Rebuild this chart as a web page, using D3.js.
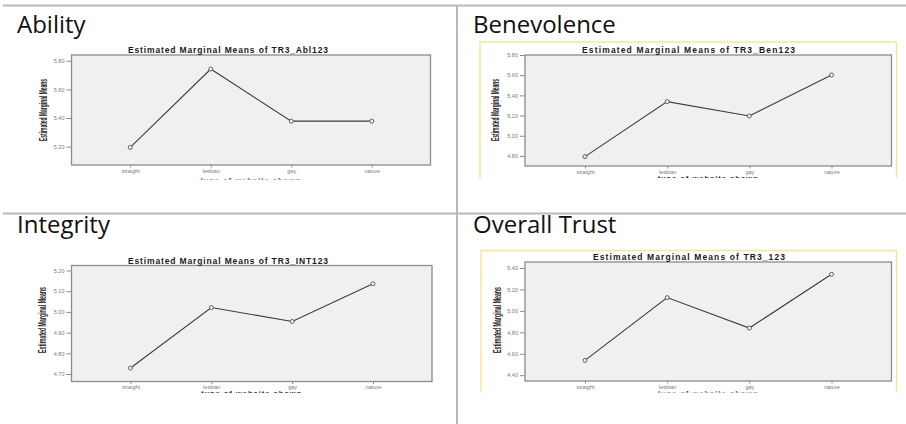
<!DOCTYPE html>
<html>
<head>
<meta charset="utf-8">
<script src="https://cdn.jsdelivr.net/npm/d3@7"></script>
<style>
  html, body { margin: 0; padding: 0; background: #fff; }
  svg { display: block; }
</style>
</head>
<body>
<div id="chart"></div>
<script>
// Data
const categories = ['straight', 'lesbian', 'gay', 'nature'];
const panelNames = ['Ability', 'Benevolence', 'Integrity', 'Overall Trust'];
const chartTitles = [
  'Estimated Marginal Means of TR3_Abl123',
  'Estimated Marginal Means of TR3_Ben123',
  'Estimated Marginal Means of TR3_INT123',
  'Estimated Marginal Means of TR3_123'
];
const abilityMeans = [5.195, 5.742, 5.378, 5.378];
const benevolenceMeans = [4.793, 5.338, 5.196, 5.602];
const integrityMeans = [4.729, 5.021, 4.954, 5.136];
const trustMeans = [4.538, 5.124, 4.840, 5.341];

const abilityTicks = [5.20, 5.40, 5.60, 5.80];
const benevolenceTicks = [4.80, 5.00, 5.20, 5.40, 5.60, 5.80];
const integrityTicks = [4.70, 4.80, 4.90, 5.00, 5.10, 5.20];
const trustTicks = [4.40, 4.60, 4.80, 5.00, 5.20, 5.40];

const abilityDomain = [5.072, 5.84];
const benevolenceDomain = [4.70, 5.80];
const integrityDomain = [4.664, 5.224];
const trustDomain = [4.346, 5.456];

const yTitle = 'Estimated Marginal Means';
const xTitle = 'type of website shown';

const width = 906;
const height = 424;
const gridColor = '#b9b9b9';

const svg = d3.select('#chart').append('svg')
  .attr('width', width)
  .attr('height', height)
  .style('font-family', '"Liberation Sans", Arial, sans-serif');

// ============================================
// Slide table grid
// ============================================
svg.append('line')
  .attr('x1', 3).attr('x2', width).attr('y1', 5.5).attr('y2', 5.5)
  .attr('stroke', gridColor).attr('stroke-width', 2);
svg.append('line')
  .attr('x1', 3).attr('x2', width).attr('y1', 213.5).attr('y2', 213.5)
  .attr('stroke', gridColor).attr('stroke-width', 2);
svg.append('line')
  .attr('x1', 457).attr('x2', 457).attr('y1', 5).attr('y2', height)
  .attr('stroke', gridColor).attr('stroke-width', 2);

// Panel layouts (positions only)
const panels = [
  { name: panelNames[0], title: chartTitles[0], values: abilityMeans, ticks: abilityTicks, domain: abilityDomain,
    headX: 17, headY: 33, box: [71.5, 430.5, 55, 165], titleX: 128, titleW: 200,
    yTitleX: 43, yTitleY: 110, yTitleLen: 62, clipY: 179.5, frame: null },
  { name: panelNames[1], title: chartTitles[1], values: benevolenceMeans, ticks: benevolenceTicks, domain: benevolenceDomain,
    headX: 473, headY: 33, box: [525, 891.5, 55, 166], titleX: 582, titleW: 213,
    yTitleX: 495, yTitleY: 110, yTitleLen: 62, clipY: 178, frame: [480, 896.5, 42] },
  { name: panelNames[2], title: chartTitles[2], values: integrityMeans, ticks: integrityTicks, domain: integrityDomain,
    headX: 17, headY: 233, box: [71.5, 432, 265.5, 381.5], titleX: 128, titleW: 200,
    yTitleX: 42, yTitleY: 320, yTitleLen: 66, clipY: 393, frame: null },
  { name: panelNames[3], title: chartTitles[3], values: trustMeans, ticks: trustTicks, domain: trustDomain,
    headX: 473, headY: 233, box: [525, 891.5, 262, 381], titleX: 593, titleW: 192,
    yTitleX: 497, yTitleY: 320, yTitleLen: 66, clipY: 392.5, frame: [481, 896.5, 250.5] }
];

panels.forEach((p, i) => {
  // Slide heading
  svg.append('text')
    .attr('x', p.headX)
    .attr('y', p.headY)
    .attr('fill', '#111')
    .attr('font-family', '"Open Sans", "Noto Sans", sans-serif')
    .attr('font-size', '24px')
    .text(p.name);

  const [x0, x1, y0, y1] = p.box;

  const clipId = `clip-${i}`;
  svg.append('clipPath').attr('id', clipId)
    .append('rect')
    .attr('x', 0).attr('y', 0).attr('width', width).attr('height', p.clipY);

  const g = svg.append('g').attr('clip-path', `url(#${clipId})`);

  // Yellow picture frame (open at the bottom where the picture is cropped)
  if (p.frame) {
    const [fx0, fx1, fy0] = p.frame;
    g.append('path')
      .attr('d', `M${fx0},${p.clipY}V${fy0}H${fx1}V${p.clipY}`)
      .attr('fill', 'none')
      .attr('stroke', '#fbe49a')
      .attr('stroke-width', 1.5);
  }

  // Scales
  const x = d3.scalePoint()
    .domain(categories)
    .range([x0, x1])
    .padding(0.73);

  const y = d3.scaleLinear()
    .domain(p.domain)
    .range([y1, y0]);

  // Plot area
  g.append('rect')
    .attr('x', x0).attr('y', y0)
    .attr('width', x1 - x0).attr('height', y1 - y0)
    .attr('fill', '#f0f0f0')
    .attr('stroke', '#8c8c8c')
    .attr('stroke-width', 1.3);

  // Y axis
  const yAxis = g.append('g')
    .attr('transform', `translate(${x0},0)`)
    .call(d3.axisLeft(y).tickValues(p.ticks).tickFormat(d3.format('.2f')).tickSize(5).tickPadding(2));
  yAxis.select('.domain').remove();
  yAxis.selectAll('line').attr('stroke', '#8c8c8c');
  yAxis.selectAll('text')
    .attr('fill', '#7a7a7a')
    .attr('font-size', '5.5px')
    .attr('font-family', '"Liberation Sans", Arial, sans-serif');

  // X axis
  const xAxis = g.append('g')
    .attr('transform', `translate(0,${y1})`)
    .call(d3.axisBottom(x).tickSize(2.5).tickPadding(1.5));
  xAxis.select('.domain').remove();
  xAxis.selectAll('line').attr('stroke', '#8c8c8c');
  xAxis.selectAll('text')
    .attr('fill', '#7a7a7a')
    .attr('font-size', '5.5px')
    .attr('font-family', '"Liberation Sans", Arial, sans-serif');

  // Chart title
  g.append('text')
    .attr('x', p.titleX)
    .attr('y', y0 - 2)
    .attr('textLength', p.titleW)
    .attr('lengthAdjust', 'spacing')
    .attr('fill', '#1a1a1a')
    .attr('font-size', '8.5px')
    .attr('font-weight', 'bold')
    .text(p.title);

  // Y axis title
  g.append('text')
    .attr('transform', `translate(${p.yTitleX + 3.5},${p.yTitleY}) rotate(-90)`)
    .attr('text-anchor', 'middle')
    .attr('textLength', p.yTitleLen)
    .attr('lengthAdjust', 'spacingAndGlyphs')
    .attr('fill', '#1a1a1a')
    .attr('font-size', '10px')
    .attr('font-weight', 'bold')
    .text(yTitle);

  // X axis title (cut off by the picture crop)
  g.append('text')
    .attr('x', (x0 + x1) / 2)
    .attr('y', p.clipY + 3)
    .attr('text-anchor', 'middle')
    .attr('fill', '#333')
    .attr('font-size', '7.5px')
    .attr('font-weight', 'bold')
    .attr('letter-spacing', '1px')
    .text(xTitle);

  // Mean line
  const line = d3.line()
    .x((d, k) => x(categories[k]))
    .y(d => y(d));

  g.append('path')
    .datum(p.values)
    .attr('d', line)
    .attr('fill', 'none')
    .attr('stroke', '#3c3c3c')
    .attr('stroke-width', 1.1);

  g.selectAll('.pt')
    .data(p.values)
    .enter()
    .append('circle')
    .attr('cx', (d, k) => x(categories[k]))
    .attr('cy', d => y(d))
    .attr('r', 2)
    .attr('fill', '#f0f0f0')
    .attr('stroke', '#555')
    .attr('stroke-width', 0.9);
});
</script>
</body>
</html>
